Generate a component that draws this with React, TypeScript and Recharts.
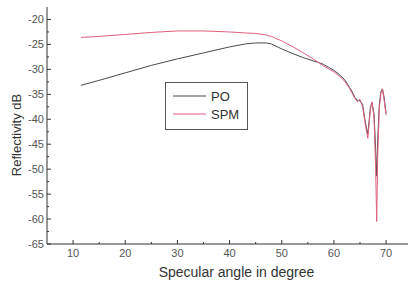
import { LineChart, Line, XAxis, YAxis, Label } from "recharts";

const angles = [11.5, 15, 20, 25, 30, 35, 40, 43, 45, 47, 48, 50, 52, 54, 56, 57, 58, 59, 60, 61, 62, 63, 63.5, 64, 64.5, 65, 65.5, 66, 66.5, 67, 67.3, 67.7, 68, 68.2, 68.4, 68.7, 69, 69.3, 69.6, 70];

const po = [-33.2, -32.2, -30.7, -29.2, -27.9, -26.7, -25.5, -24.9, -24.7, -24.7, -24.9, -25.9, -26.8, -27.6, -28.3, -28.6, -29.0, -29.6, -30.2, -31.0, -32.0, -33.6, -34.5, -35.6, -36.2, -36.3, -37.0, -40.5, -43.0, -37.5, -36.7, -39.0, -46.0, -51.4, -44.0, -37.0, -34.5, -33.9, -35.5, -38.8];

const spm = [-23.6, -23.4, -23.0, -22.6, -22.3, -22.3, -22.5, -22.7, -22.8, -23.1, -23.4, -24.3, -25.4, -26.6, -27.9, -28.6, -29.3, -29.9, -30.5, -31.3, -32.3, -33.8, -34.8, -35.8, -36.5, -36.0, -37.5, -41.0, -43.8, -38.0, -36.5, -40.0, -50.0, -60.5, -47.0, -38.0, -34.8, -34.0, -36.0, -39.2];

const xTicks = [10, 15, 20, 25, 30, 35, 40, 45, 50, 55, 60, 65, 70];
const yTicks = [-65, -62.5, -60, -57.5, -55, -52.5, -50, -47.5, -45, -42.5, -40, -37.5, -35, -32.5, -30, -27.5, -25, -22.5, -20];

const data = angles.map((a, i) => ({ angle: a, PO: po[i], SPM: spm[i] }));

const AXIS = "#333";
const TEXT = "#555";
const PO_COLOR = "#4a4a4a";
const SPM_COLOR = "#e0607e";
const FONT = "'Liberation Sans', Arial, sans-serif";

const XTick = (props: any) => {
  const { x, y, payload } = props;
  const major = payload.value % 10 === 0;
  return (
    <g>
      <line x1={x} x2={x} y1={y} y2={y - (major ? 4 : 2)} stroke={AXIS} />
      {major && (
        <text x={x} y={y + 13} textAnchor="middle" fontSize={11} fill={TEXT} fontFamily={FONT}>
          {payload.value}
        </text>
      )}
    </g>
  );
};

const YTick = (props: any) => {
  const { x, y, payload } = props;
  const major = payload.value % 5 === 0;
  return (
    <g>
      <line x1={x} x2={x + (major ? 4 : 2)} y1={y} y2={y} stroke={AXIS} />
      {major && (
        <text x={x - 3} y={y + 4} textAnchor="end" fontSize={11} fill={TEXT} fontFamily={FONT}>
          {payload.value}
        </text>
      )}
    </g>
  );
};

const XTitle = (props: any) => {
  const { viewBox } = props;
  return (
    <text
      x={viewBox.x + viewBox.width / 2 + 9}
      y={277}
      textAnchor="middle"
      fontSize={14}
      fill="#333"
      fontFamily={FONT}
    >
      Specular angle in degree
    </text>
  );
};

const YTitle = () => (
  <text
    x={21}
    y={135}
    transform="rotate(-90 21 135)"
    textAnchor="middle"
    fontSize={13}
    fill="#333"
    fontFamily={FONT}
  >
    Reflectivity dB
  </text>
);

// legend box drawn over the plot, like the original figure
const LegendBox = () => (
  <svg
    width={83}
    height={48}
    style={{ position: "absolute", left: 165, top: 82 }}
  >
    <rect x={0.5} y={0.5} width={82} height={47} fill="#fff" stroke="#555" />
    <line x1={8} x2={41} y1={14} y2={14} stroke={PO_COLOR} />
    <text x={46} y={18.5} fontSize={13} fill="#333" fontFamily={FONT}>PO</text>
    <line x1={8} x2={41} y1={32} y2={32} stroke={SPM_COLOR} />
    <text x={46} y={36.5} fontSize={13} fill="#333" fontFamily={FONT}>SPM</text>
  </svg>
);

export default function App() {
  return (
    <div style={{ position: "absolute", left: 0, top: 0, width: 409, height: 284, background: "#fff" }}>
      <LineChart
        width={409}
        height={284}
        data={data}
        margin={{ top: 7, right: 1, bottom: 0, left: 0 }}
      >
        <XAxis
          dataKey="angle"
          type="number"
          domain={[5, 74.2]}
          ticks={xTicks}
          interval={0}
          tick={<XTick />}
          tickSize={0}
          tickMargin={0}
          tickLine={false}
          axisLine={{ stroke: AXIS }}
          height={40}
        >
          <Label content={<XTitle />} />
        </XAxis>
        <YAxis
          type="number"
          domain={[-65, -17.5]}
          ticks={yTicks}
          interval={0}
          tick={<YTick />}
          tickSize={0}
          tickMargin={0}
          tickLine={false}
          axisLine={{ stroke: AXIS }}
          width={47}
          allowDataOverflow
        >
          <Label content={<YTitle />} />
        </YAxis>
        <Line dataKey="PO" stroke={PO_COLOR} strokeWidth={1} dot={false} isAnimationActive={false} />
        <Line dataKey="SPM" stroke={SPM_COLOR} strokeWidth={1} dot={false} isAnimationActive={false} />
      </LineChart>
      <LegendBox />
    </div>
  );
}
